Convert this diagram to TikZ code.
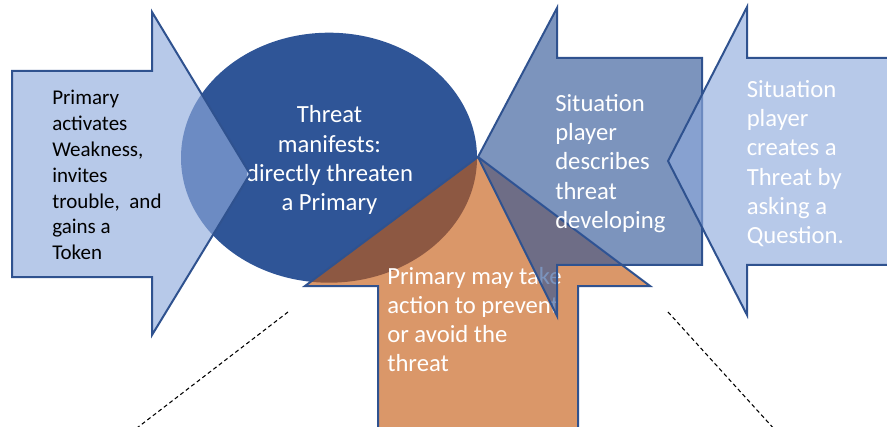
\documentclass[tikz,border=0pt]{standalone}
\usepackage{fontspec}
\setmainfont{Carlito}

\definecolor{edgeblue}{HTML}{2F528F}
\definecolor{deepblue}{HTML}{2F5597}
\definecolor{paleblue}{HTML}{8FAADC}
\definecolor{burnt}{HTML}{C55A11}

% stacked lines whose baseline is the first line's baseline
\newcommand{\stackL}[1]{\begin{tabular}[t]{@{}l@{}}#1\end{tabular}}
\newcommand{\stackC}[1]{\begin{tabular}[t]{@{}c@{}}#1\end{tabular}}

\begin{document}
\begin{tikzpicture}[x=0.75pt,y=-0.75pt,
  shapeedge/.style={draw=edgeblue,line width=1.5pt,line join=miter},
  palearrow/.style={shapeedge,fill=paleblue,fill opacity=0.64},
  deeparrow/.style={shapeedge,fill=deepblue,fill opacity=0.63},
  burntarrow/.style={shapeedge,fill=burnt,fill opacity=0.63},
  bigtext/.style={inner sep=0pt,text=white,font=\fontsize{18.5pt}{21.9pt}\selectfont},
  smalltext/.style={inner sep=0pt,text=black,font=\fontsize{15.75pt}{19.35pt}\selectfont},
  guide/.style={draw=black,line width=0.8pt,dash pattern=on 3pt off 2.2pt}]

\clip (0,0) rectangle (887,427);

% central ellipse
\fill[deepblue] (329,157.7) ellipse [x radius=148, y radius=125];
\node[bigtext,anchor=base] (threat) at (329.5,123)
  {\stackC{Threat\\manifests:\\directly threaten\\a Primary}};

% left arrow pointing right
\draw[palearrow] (12,71) -- (152,71) -- (152,12) -- (250,174) -- (152,335)
  -- (152,277) -- (12,277) -- cycle;
\node[smalltext,anchor=base west] (weak) at (52,105)
  {\stackL{Primary\\activates\\Weakness,\\invites\\trouble,~ and\\gains a\\Token}};

% bottom arrow pointing up
\draw[burntarrow] (478,157) -- (650,286) -- (578,286) -- (578,440)
  -- (378,440) -- (378,286) -- (305,286) -- cycle;
\node[bigtext,anchor=base west] (act) at (387,284)
  {\stackL{Primary may take\\action to prevent\\or avoid the\\threat}};

% middle arrow pointing left
\draw[deeparrow] (478,157) -- (557,8) -- (557,58) -- (702,58) -- (702,265)
  -- (557,265) -- (557,316) -- cycle;
\node[bigtext,anchor=base west] (desc) at (555,111.5)
  {\stackL{Situation\\player\\describes\\threat\\developing}};

% right arrow pointing left
\draw[palearrow] (668,161) -- (747,7) -- (747,58) -- (900,58) -- (900,265)
  -- (747,265) -- (747,315) -- cycle;
\node[bigtext,anchor=base west] (ask) at (746.5,97.5)
  {\stackL{Situation\\player\\creates a\\Threat by\\asking a\\Question.}};

% dashed guide lines
\coordinate (gl1) at (288,312);
\coordinate (gl2) at (133,431);
\coordinate (gr1) at (668,312);
\coordinate (gr2) at (776,431);
\draw[guide] (gl1) -- (gl2);
\draw[guide] (gr1) -- (gr2);
\end{tikzpicture}
\end{document}
